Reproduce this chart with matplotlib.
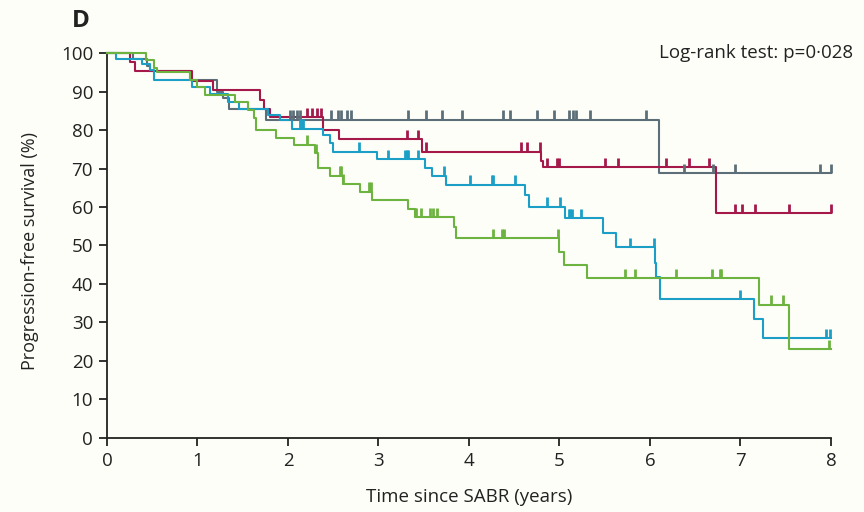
import matplotlib
matplotlib.use("Agg")
import matplotlib.pyplot as plt
import numpy as np

plt.rcParams['font.family'] = ['Open Sans', 'DejaVu Sans']

# event times (years) and survival level (%) after each step
grey_t = [0, 0.29, 0.44, 0.47, 0.92, 1.22, 1.28, 1.35, 1.76, 6.10]
grey_s = [100, 98.4, 96.7, 95.4, 93.0, 90.0, 88.3, 85.4, 82.6, 68.8]
grey_c = [2.02, 2.06, 2.10, 2.13, 2.48, 2.55, 2.59, 2.65, 2.70, 3.33, 3.53, 3.70, 3.92,
          4.38, 4.45, 4.75, 4.94, 5.11, 5.15, 5.18, 5.34, 5.96, 6.38, 6.70, 6.94, 7.88, 8.0]

red_t = [0, 0.25, 0.31, 0.94, 1.17, 1.69, 1.73, 1.80, 2.39, 2.56, 3.48, 4.80, 4.82, 6.73]
red_s = [100, 97.8, 95.4, 92.8, 90.4, 87.8, 85.4, 83.3, 80.0, 77.6, 74.4, 72.0, 70.3, 58.4]
red_c = [2.21, 2.26, 2.32, 2.37, 3.31, 3.44, 3.53, 4.58, 4.64, 4.78, 4.86, 4.97, 5.00,
         5.50, 5.65, 6.18, 6.43, 6.65, 6.94, 7.02, 7.16, 7.54, 8.0]

blue_t = [0, 0.10, 0.39, 0.47, 0.52, 0.94, 1.14, 1.34, 1.46, 1.78, 1.91, 2.05, 2.39, 2.46,
          2.50, 2.98, 3.51, 3.59, 3.75, 4.62, 4.66, 5.06, 5.48, 5.62, 6.05, 6.07, 6.11, 7.15, 7.25]
blue_s = [100, 98.4, 97.1, 95.6, 93.0, 91.3, 89.5, 87.4, 85.4, 83.9, 82.6, 80.3, 78.7, 76.7,
          74.4, 72.4, 70.1, 68.1, 65.7, 63.1, 60.1, 57.1, 53.3, 49.5, 45.4, 41.9, 36.0, 31.0, 25.9]
blue_c = [2.13, 2.15, 2.17, 2.79, 3.11, 3.29, 3.31, 3.33, 3.44, 3.72, 4.01, 4.25, 4.27, 4.51,
          4.86, 5.01, 5.10, 5.12, 5.14, 5.24, 5.78, 6.04, 6.99, 7.95, 7.99]

green_t = [0, 0.43, 0.52, 0.55, 0.92, 0.99, 1.08, 1.41, 1.56, 1.62, 1.65, 1.87, 2.07, 2.30,
           2.33, 2.46, 2.61, 2.80, 2.93, 3.33, 3.40, 3.83, 3.86, 5.00, 5.05, 5.30, 7.21, 7.54]
green_s = [100, 98.2, 96.2, 95.2, 93.0, 91.3, 89.1, 87.4, 85.2, 83.1, 80.0, 77.9, 76.1, 74.0,
           70.1, 68.1, 66.0, 63.9, 61.7, 59.4, 57.3, 54.7, 51.9, 48.4, 44.9, 41.5, 34.5, 23.0]
green_c = [2.21, 2.31, 2.57, 2.59, 2.61, 2.90, 2.92, 3.40, 3.42, 3.47, 3.57, 3.60, 3.65,
           4.27, 4.36, 4.39, 4.98, 5.72, 5.83, 6.29, 6.68, 6.77, 6.79, 7.34, 7.47, 7.98]

groups = [
    (grey_t, grey_s, grey_c, '#5c6f78'),
    (red_t, red_s, red_c, '#a5194a'),
    (blue_t, blue_s, blue_c, '#1b9fc6'),
    (green_t, green_s, green_c, '#6db33f'),
]

bg = '#fefef9'
ink = '#222222'
fig = plt.figure(figsize=(8.64, 5.12), dpi=100, facecolor=bg)
ax = fig.add_axes([0.1238, 0.1451, 0.838, 0.751])
ax.set_facecolor(bg)

t_end = 8.0
for t, s, c, col in groups:
    tt = np.append(t, t_end)
    ss = np.append(s, s[-1])
    ax.step(tt, ss, where='post', color=col, lw=1.5, clip_on=False, zorder=3)
    #censor ticks sit on the curve at that time
    idx = np.searchsorted(t, c, side='right') - 1
    lev = np.array(s)[idx]
    ax.vlines(c, lev, lev + 2.5, color=col, lw=2.0, clip_on=False, zorder=4)

ax.set_xlim(0, 8)
ax.set_ylim(0, 100)
ax.set_xticks(range(0, 9))
ax.set_yticks(range(0, 101, 10))
for sp in ['top', 'right']:
    ax.spines[sp].set_visible(False)
for sp in ['left', 'bottom']:
    ax.spines[sp].set_linewidth(1.3)
    ax.spines[sp].set_color(ink)
ax.tick_params(direction='out', length=6, width=1.3, color=ink,
               labelsize=13.5, labelcolor=ink, pad=4)

ax.set_xlabel('Time since SABR (years)', fontsize=13.5, color=ink, labelpad=13)
# y label sits a little lower than the axes centre in the original
fig.text(0.035, 0.51, 'Progression-free survival (%)', rotation=90, ha='center', va='center',
         fontsize=13, color=ink)

fig.text(0.987, 0.887, 'Log-rank test: p=0\u00b7028', ha='right', va='baseline',
         fontsize=13.5, color=ink)
fig.text(0.083, 0.947, 'D', ha='left', va='baseline', fontsize=17.5,
         fontweight='bold', color=ink)

fig.savefig('out.png', dpi=100, facecolor=bg)
